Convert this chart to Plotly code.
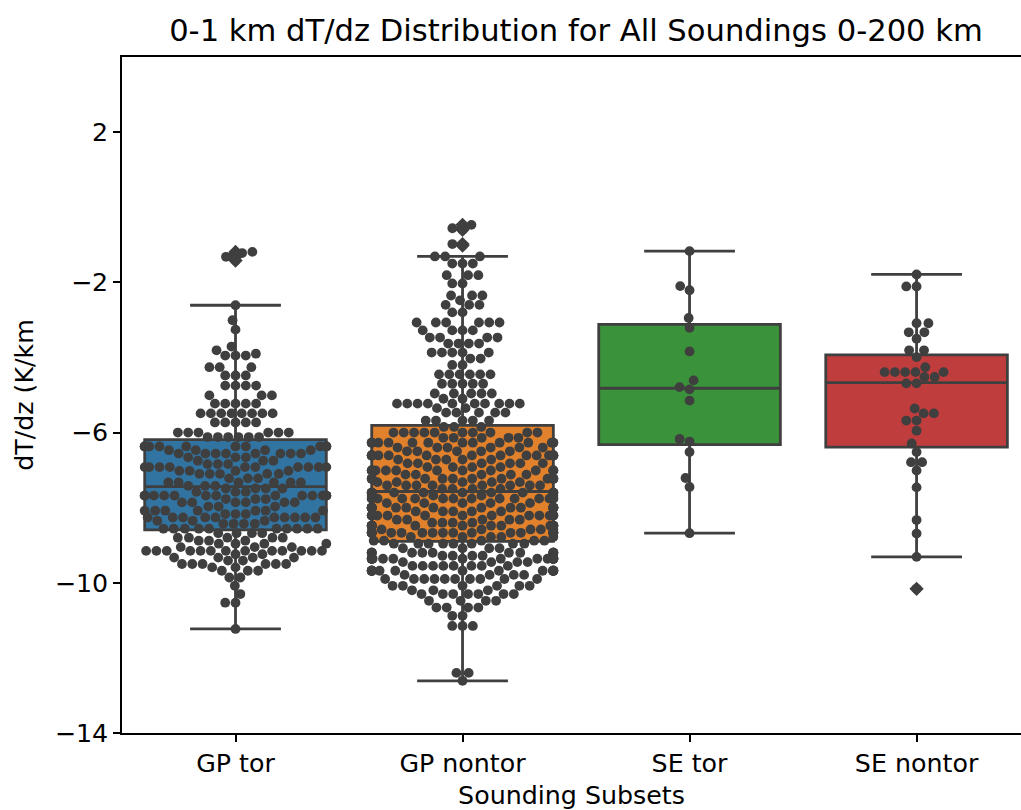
import numpy as np
import plotly.graph_objects as go

# ---------------- data ----------------
categories = ["GP tor", "GP nontor", "SE tor", "SE nontor"]
tick_vals_y = [2, -2, -6, -10, -14]

# swarm values: level -> number of soundings at that level
gp_tor_levels = [-1.19, -1.22, -1.32, -1.42, -2.61, -3.01, -3.26, -3.71, -3.81, -3.90,
                 -3.95, -4.26, -4.48, -4.75, -5.01, -5.23, -5.49, -5.73, -6.00, -6.12,
                 -6.37, -6.47, -6.56, -6.66, -6.75, -6.84, -6.92, -7.02, -7.10, -7.22,
                 -7.33, -7.42, -7.49, -7.58, -7.68, -7.77, -7.86, -7.97, -8.08, -8.17,
                 -8.26, -8.35, -8.43, -8.56, -8.68, -8.80, -8.88, -8.96, -9.05, -9.15,
                 -9.24, -9.33, -9.41, -9.50, -9.59, -9.68, -9.86, -10.08, -10.30, -10.53,
                 -11.23]
gp_tor_counts = [1, 1, 1, 1, 1, 1, 1, 1, 1, 1,
                 3, 3, 3, 4, 3, 5, 8, 5, 6, 6,
                 12, 4, 8, 3, 3, 3, 10, 4, 5, 3,
                 6, 3, 4, 3, 15, 3, 6, 3, 7, 3,
                 10, 3, 4, 10, 4, 5, 3, 4, 3, 13,
                 2, 4, 2, 6, 2, 3, 2, 1, 1, 2,
                 1]

gp_nontor_levels = [-0.47, -0.56, -0.60, -0.98, -1.02, -1.31, -1.50, -1.81, -2.03, -2.35,
                    -2.48, -2.60, -2.80, -3.07, -3.28, -3.47, -3.63, -3.87, -4.03, -4.20,
                    -4.45, -4.70, -4.96, -5.10, -5.23, -5.35, -5.47, -5.68, -5.85, -6.00,
                    -6.14, -6.27, -6.40, -6.50, -6.61, -6.72, -6.82, -6.92, -7.01, -7.12,
                    -7.23, -7.32, -7.41, -7.50, -7.60, -7.68, -7.76, -7.88, -8.00, -8.10,
                    -8.21, -8.32, -8.40, -8.48, -8.58, -8.67, -8.78, -8.88, -8.96, -9.08,
                    -9.20, -9.28, -9.36, -9.45, -9.55, -9.68, -9.79, -9.90, -10.08, -10.20,
                    -10.30, -10.48, -10.66, -10.88, -11.15, -12.40, -12.61]
gp_nontor_counts = [1, 1, 1, 1, 1, 3, 3, 3, 2, 3,
                    1, 3, 2, 6, 4, 4, 4, 5, 2, 2,
                    6, 5, 5, 2, 10, 2, 5, 5, 3, 10,
                    5, 14, 6, 5, 19, 5, 6, 4, 14, 5,
                    12, 5, 8, 4, 12, 4, 14, 5, 20, 5,
                    14, 5, 4, 16, 5, 20, 5, 5, 8, 4,
                    13, 4, 18, 4, 8, 17, 4, 10, 6, 3,
                    7, 4, 4, 2, 3, 2, 1]

se_tor_values = [-1.17, -2.10, -2.21, -2.95, -3.21, -3.84, -4.61, -4.79, -4.85, -5.15,
                 -6.17, -6.24, -6.52, -7.21, -7.45, -8.68]

se_nontor_values = [-1.79, -2.11, -2.11, -3.09, -3.09, -3.33, -3.33, -3.50, -3.81, -3.81,
                    -3.99, -4.26, -4.39, -4.39, -4.39, -4.39, -4.39, -4.52, -4.52, -4.69,
                    -4.69, -5.36, -5.49, -5.49, -5.68, -5.68, -5.95, -6.29, -6.52, -6.79,
                    -6.79, -7.01, -7.46, -8.33, -8.69, -9.31, -10.16]

# box statistics
box_q1 = [-8.59, -8.90, -6.32, -6.39]
box_median = [-7.44, -7.57, -4.82, -4.67]
box_q3 = [-6.19, -5.81, -3.12, -3.93]
box_lower = [-11.23, -12.61, -8.68, -9.31]
box_upper = [-2.61, -1.31, -1.17, -1.79]
outliers = [[-1.19, -1.22, -1.32, -1.42], [-0.47, -0.56, -0.60, -0.98, -1.02], [], [-10.16]]

box_colors = ["#3274a1", "#e1812c", "#3a923a", "#c03d3e"]
dark = "#3f3f3f"

# ---------------- layout constants ----------------
W, H = 1021, 810
M_L, M_R, M_T, M_B = 122, 0, 57, 77
X_RANGE = [-0.5, 3.46]
Y_RANGE = [-14, 4]
px_per_x = (W - M_L - M_R) / (X_RANGE[1] - X_RANGE[0])
px_per_y = (H - M_T - M_B) / (Y_RANGE[1] - Y_RANGE[0])
DOT = 9.8           # marker diameter in px
R = 4.9             # collision radius in px
HALF_W = 0.4        # swarm half width (category units)


def beeswarm(values):
    """seaborn-style beeswarm; returns x offsets in category units."""
    vals = np.asarray(values, dtype=float)
    order = np.argsort(vals, kind="stable")
    ys = vals[order] * px_per_y
    px = []
    py = []
    for y in ys:
        nx, ny = [], []
        for j in range(len(px) - 1, -1, -1):
            if y - py[j] < 2 * R:
                nx.append(px[j])
                ny.append(py[j])
            else:
                break
        if not nx:
            px.append(0.0)
            py.append(y)
            continue
        cands = [0.0]
        left_first = True
        for xj, yj in zip(nx, ny):
            dy = y - yj
            dx = np.sqrt(max((2 * R) ** 2 - dy ** 2, 0)) * 1.05
            if left_first:
                cands += [xj - dx, xj + dx]
            else:
                cands += [xj + dx, xj - dx]
            left_first = not left_first
        cands = np.array(cands)
        cands = cands[np.argsort(np.abs(cands), kind="stable")]
        nx_a, ny_a = np.array(nx), np.array(ny)
        chosen = cands[0]
        for c in cands:
            d2 = (nx_a - c) ** 2 + (ny_a - y) ** 2
            if np.all(d2 >= (2 * R) ** 2 - 1e-9):
                chosen = c
                break
        px.append(chosen)
        py.append(y)
    offs = np.empty(len(vals))
    offs[order] = np.clip(np.array(px) / px_per_x, -HALF_W, HALF_W)
    return offs


groups = [
    np.repeat(gp_tor_levels, gp_tor_counts),
    np.repeat(gp_nontor_levels, gp_nontor_counts),
    np.array(se_tor_values),
    np.array(se_nontor_values),
]

fig = go.Figure()

# boxes
for i, cat in enumerate(categories):
    fig.add_trace(go.Box(
        x=[i], q1=[box_q1[i]], median=[box_median[i]], q3=[box_q3[i]],
        lowerfence=[box_lower[i]], upperfence=[box_upper[i]],
        name=cat, width=0.8, whiskerwidth=0.5,
        fillcolor=box_colors[i], line=dict(color=dark, width=2.8),
        boxpoints=False, showlegend=False, hoverinfo="skip",
    ))

# outlier diamonds
ox, oy = [], []
for i, vals in enumerate(outliers):
    ox += [i] * len(vals)
    oy += vals
fig.add_trace(go.Scatter(
    x=ox, y=oy, mode="markers",
    marker=dict(symbol="diamond", size=11, color=dark, line=dict(width=0)),
    showlegend=False, hoverinfo="skip",
))

# swarm points
for i, vals in enumerate(groups):
    offs = beeswarm(vals)
    fig.add_trace(go.Scatter(
        x=i + offs, y=vals, mode="markers",
        marker=dict(size=DOT, color=dark, line=dict(width=0)),
        showlegend=False, hoverinfo="skip",
    ))

font_family = "DejaVu Sans"
TICK_SIZE = 25.3
fig.update_layout(
    width=W, height=H,
    margin=dict(l=M_L, r=M_R, t=M_T, b=M_B, pad=0, autoexpand=False),
    paper_bgcolor="white", plot_bgcolor="white",
    font=dict(family=font_family, size=TICK_SIZE, color="#000000"),
    title=dict(text="0-1 km dT/dz Distribution for All Soundings 0-200 km",
               x=576 / W, xref="container", xanchor="center",
               y=1 - 30 / H, yref="container", yanchor="middle",
               font=dict(family=font_family, size=30.6, color="#000000")),
    showlegend=False,
)
fig.update_xaxes(
    range=X_RANGE, tickvals=list(range(len(categories))), ticktext=categories,
    showgrid=False, zeroline=False, showline=True, linecolor="#000000", linewidth=1.5,
    mirror=True, ticks="outside", ticklen=7, tickwidth=1.5, tickcolor="#000000",
    tickfont=dict(size=TICK_SIZE, family=font_family, color="#000000"),
    title=dict(text="Sounding Subsets", standoff=12,
               font=dict(size=TICK_SIZE, family=font_family, color="#000000")),
    automargin=False,
)
fig.update_yaxes(
    range=Y_RANGE, tickvals=tick_vals_y,
    showgrid=False, zeroline=False, showline=True, linecolor="#000000", linewidth=1.5,
    mirror=False, ticks="outside", ticklen=7, tickwidth=1.5, tickcolor="#000000",
    tickfont=dict(size=TICK_SIZE, family=font_family, color="#000000"),
    title=dict(text="dT/dz (K/km", standoff=14,
               font=dict(size=TICK_SIZE, family=font_family, color="#000000")),
    automargin=False,
)

fig.write_html("out.html")
